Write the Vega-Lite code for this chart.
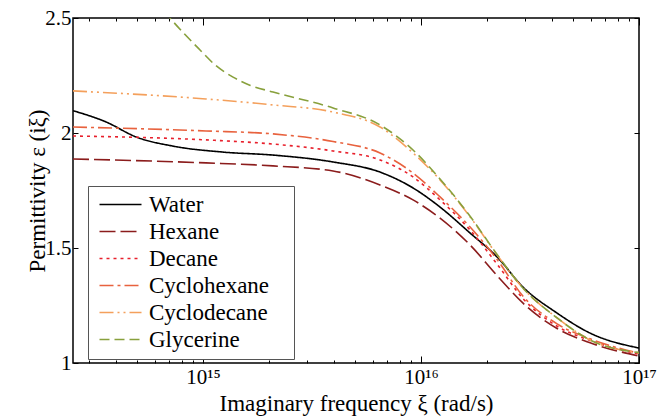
{
  "$schema": "https://vega.github.io/schema/vega-lite/v6.json",
  "width": 566,
  "height": 345,
  "autosize": {"type": "none"},
  "padding": {"left": 73, "top": 18, "right": 18, "bottom": 53},
  "background": "white",
  "config": {
    "font": "Liberation Serif",
    "view": {"stroke": "black", "strokeWidth": 1.5},
    "axis": {
      "domain": false,
      "grid": false,
      "tickColor": "black",
      "tickWidth": 1,
      "labelColor": "black",
      "labelFont": "Liberation Serif",
      "labelFontSize": 21,
      "titleFont": "Liberation Serif",
      "titleFontSize": 23,
      "titleFontWeight": "normal",
      "titleColor": "black"
    }
  },
  "data": {
    "values": [
      {"liquid": "Water", "xi": 2.535e14, "eps": 2.097},
      {"liquid": "Water", "xi": 3.593e14, "eps": 2.048},
      {"liquid": "Water", "xi": 4.932e14, "eps": 1.983},
      {"liquid": "Water", "xi": 7.29e14, "eps": 1.943},
      {"liquid": "Water", "xi": 1.236e15, "eps": 1.917},
      {"liquid": "Water", "xi": 2.097e15, "eps": 1.904},
      {"liquid": "Water", "xi": 3.952e15, "eps": 1.874},
      {"liquid": "Water", "xi": 6.49e15, "eps": 1.83},
      {"liquid": "Water", "xi": 9.196e15, "eps": 1.761},
      {"liquid": "Water", "xi": 1.223e16, "eps": 1.678},
      {"liquid": "Water", "xi": 1.68e16, "eps": 1.565},
      {"liquid": "Water", "xi": 2.234e16, "eps": 1.461},
      {"liquid": "Water", "xi": 2.939e16, "eps": 1.33},
      {"liquid": "Water", "xi": 4.21e16, "eps": 1.217},
      {"liquid": "Water", "xi": 5.966e16, "eps": 1.13},
      {"liquid": "Water", "xi": 1e17, "eps": 1.065},

      {"liquid": "Hexane", "xi": 2.535e14, "eps": 1.887},
      {"liquid": "Hexane", "xi": 4.932e14, "eps": 1.88},
      {"liquid": "Hexane", "xi": 1.033e15, "eps": 1.87},
      {"liquid": "Hexane", "xi": 2.097e15, "eps": 1.857},
      {"liquid": "Hexane", "xi": 3.952e15, "eps": 1.835},
      {"liquid": "Hexane", "xi": 6.49e15, "eps": 1.774},
      {"liquid": "Hexane", "xi": 9.196e15, "eps": 1.709},
      {"liquid": "Hexane", "xi": 1.223e16, "eps": 1.63},
      {"liquid": "Hexane", "xi": 1.68e16, "eps": 1.513},
      {"liquid": "Hexane", "xi": 2.234e16, "eps": 1.38},
      {"liquid": "Hexane", "xi": 2.939e16, "eps": 1.26},
      {"liquid": "Hexane", "xi": 4.21e16, "eps": 1.15},
      {"liquid": "Hexane", "xi": 5.966e16, "eps": 1.088},
      {"liquid": "Hexane", "xi": 1e17, "eps": 1.03},

      {"liquid": "Decane", "xi": 2.535e14, "eps": 1.987},
      {"liquid": "Decane", "xi": 1.033e15, "eps": 1.97},
      {"liquid": "Decane", "xi": 2.097e15, "eps": 1.952},
      {"liquid": "Decane", "xi": 3.952e15, "eps": 1.922},
      {"liquid": "Decane", "xi": 6.49e15, "eps": 1.883},
      {"liquid": "Decane", "xi": 9.196e15, "eps": 1.809},
      {"liquid": "Decane", "xi": 1.223e16, "eps": 1.709},
      {"liquid": "Decane", "xi": 1.68e16, "eps": 1.578},
      {"liquid": "Decane", "xi": 2.234e16, "eps": 1.43},
      {"liquid": "Decane", "xi": 2.939e16, "eps": 1.28},
      {"liquid": "Decane", "xi": 4.21e16, "eps": 1.16},
      {"liquid": "Decane", "xi": 5.966e16, "eps": 1.098},
      {"liquid": "Decane", "xi": 1e17, "eps": 1.038},

      {"liquid": "Cyclohexane", "xi": 2.535e14, "eps": 2.026},
      {"liquid": "Cyclohexane", "xi": 1.033e15, "eps": 2.009},
      {"liquid": "Cyclohexane", "xi": 2.097e15, "eps": 1.996},
      {"liquid": "Cyclohexane", "xi": 3.952e15, "eps": 1.963},
      {"liquid": "Cyclohexane", "xi": 6.49e15, "eps": 1.913},
      {"liquid": "Cyclohexane", "xi": 9.196e15, "eps": 1.826},
      {"liquid": "Cyclohexane", "xi": 1.223e16, "eps": 1.722},
      {"liquid": "Cyclohexane", "xi": 1.68e16, "eps": 1.591},
      {"liquid": "Cyclohexane", "xi": 2.234e16, "eps": 1.45},
      {"liquid": "Cyclohexane", "xi": 2.939e16, "eps": 1.29},
      {"liquid": "Cyclohexane", "xi": 4.21e16, "eps": 1.17},
      {"liquid": "Cyclohexane", "xi": 5.966e16, "eps": 1.105},
      {"liquid": "Cyclohexane", "xi": 1e17, "eps": 1.042},

      {"liquid": "Cyclodecane", "xi": 2.535e14, "eps": 2.183},
      {"liquid": "Cyclodecane", "xi": 1.033e15, "eps": 2.148},
      {"liquid": "Cyclodecane", "xi": 2.097e15, "eps": 2.122},
      {"liquid": "Cyclodecane", "xi": 3.952e15, "eps": 2.091},
      {"liquid": "Cyclodecane", "xi": 6.49e15, "eps": 2.026},
      {"liquid": "Cyclodecane", "xi": 9.196e15, "eps": 1.913},
      {"liquid": "Cyclodecane", "xi": 1.223e16, "eps": 1.796},
      {"liquid": "Cyclodecane", "xi": 1.68e16, "eps": 1.635},
      {"liquid": "Cyclodecane", "xi": 2.234e16, "eps": 1.47},
      {"liquid": "Cyclodecane", "xi": 2.939e16, "eps": 1.325},
      {"liquid": "Cyclodecane", "xi": 4.21e16, "eps": 1.196},
      {"liquid": "Cyclodecane", "xi": 5.966e16, "eps": 1.1},
      {"liquid": "Cyclodecane", "xi": 1e17, "eps": 1.045},

      {"liquid": "Glycerine", "xi": 6.03e14, "eps": 2.58},
      {"liquid": "Glycerine", "xi": 7.063e14, "eps": 2.5},
      {"liquid": "Glycerine", "xi": 9.696e14, "eps": 2.361},
      {"liquid": "Glycerine", "xi": 1.14e15, "eps": 2.295},
      {"liquid": "Glycerine", "xi": 1.374e15, "eps": 2.243},
      {"liquid": "Glycerine", "xi": 1.65e15, "eps": 2.207},
      {"liquid": "Glycerine", "xi": 2.097e15, "eps": 2.178},
      {"liquid": "Glycerine", "xi": 3.952e15, "eps": 2.109},
      {"liquid": "Glycerine", "xi": 6.49e15, "eps": 2.035},
      {"liquid": "Glycerine", "xi": 9.196e15, "eps": 1.926},
      {"liquid": "Glycerine", "xi": 1.223e16, "eps": 1.8},
      {"liquid": "Glycerine", "xi": 1.68e16, "eps": 1.638},
      {"liquid": "Glycerine", "xi": 2.234e16, "eps": 1.472},
      {"liquid": "Glycerine", "xi": 2.939e16, "eps": 1.325},
      {"liquid": "Glycerine", "xi": 4.21e16, "eps": 1.196},
      {"liquid": "Glycerine", "xi": 5.966e16, "eps": 1.1},
      {"liquid": "Glycerine", "xi": 1e17, "eps": 1.045}
    ]
  },
  "layer": [
    {
      "mark": {"type": "line", "strokeWidth": 1.6, "interpolate": "monotone", "clip": true},
      "encoding": {
        "x": {
          "field": "xi", "type": "quantitative",
          "scale": {"type": "log", "domain": [2.535e14, 1e17], "nice": false},
          "axis": {
            "orient": "bottom",
            "title": "Imaginary frequency ξ (rad/s)",
            "titlePadding": 1,
            "values": [3e14, 4e14, 5e14, 6e14, 7e14, 8e14, 9e14, 1e15, 2e15, 3e15, 4e15, 5e15, 6e15, 7e15, 8e15, 9e15, 1e16, 2e16, 3e16, 4e16, 5e16, 6e16, 7e16, 8e16, 9e16, 1e17],
            "labelExpr": "abs(datum.value/1e15-1)<1e-6 ? '10¹⁵' : abs(datum.value/1e16-1)<1e-6 ? '10¹⁶' : abs(datum.value/1e17-1)<1e-6 ? '10¹⁷' : ''",
            "tickSize": {"condition": {"test": "abs(log(datum.value)/LN10 - round(log(datum.value)/LN10)) < 1e-6", "value": -7}, "value": -3},
            "labelPadding": 10,
            "labelFlush": false,
            "labelOverlap": false
          }
        },
        "y": {
          "field": "eps", "type": "quantitative",
          "scale": {"domain": [1, 2.5], "nice": false, "zero": false},
          "axis": {
            "orient": "left",
            "title": "Permittivity  ε (iξ)",
            "titlePadding": -5,
            "values": [1, 1.5, 2, 2.5],
            "labelExpr": "format(datum.value, '~g')",
            "tickSize": -5,
            "labelPadding": 7
          }
        },
        "color": {
          "field": "liquid", "type": "nominal",
          "scale": {
            "domain": ["Water", "Hexane", "Decane", "Cyclohexane", "Cyclodecane", "Glycerine"],
            "range": ["#000000", "#8b1c1c", "#e8202c", "#e8623e", "#f4a05c", "#88a03c"]
          },
          "legend": {
            "orient": "none",
            "legendX": 15,
            "legendY": 168,
            "title": null,
            "fillColor": "white",
            "strokeColor": "#555555",
            "padding": 7,
            "symbolType": "M-1,0H5",
            "symbolSize": 196,
            "symbolStrokeWidth": 1.6,
            "labelFont": "Liberation Serif",
            "labelFontSize": 23,
            "labelColor": "black",
            "labelOffset": 31,
            "labelExpr": "datum.label + '\u2800'",
            "rowPadding": 3
          }
        },
        "strokeDash": {
          "field": "liquid", "type": "nominal",
          "scale": {
            "domain": ["Water", "Hexane", "Decane", "Cyclohexane", "Cyclodecane", "Glycerine"],
            "range": [[1, 0], [16, 5], [3, 4], [14, 4, 3, 4], [14, 4, 2, 4, 2, 4], [10, 5]]
          }
        }
      }
    },
    {
      "mark": {"type": "line", "opacity": 0, "clip": true},
      "encoding": {
        "detail": {"field": "liquid"},
        "x": {
          "field": "xi", "type": "quantitative",
          "axis": {
            "orient": "top",
            "title": null,
            "labels": false,
            "values": [3e14, 4e14, 5e14, 6e14, 7e14, 8e14, 9e14, 1e15, 2e15, 3e15, 4e15, 5e15, 6e15, 7e15, 8e15, 9e15, 1e16, 2e16, 3e16, 4e16, 5e16, 6e16, 7e16, 8e16, 9e16, 1e17],
            "tickSize": {"condition": {"test": "abs(log(datum.value)/LN10 - round(log(datum.value)/LN10)) < 1e-6", "value": -7}, "value": -3}
          }
        },
        "y": {
          "field": "eps", "type": "quantitative",
          "axis": {
            "orient": "right",
            "title": null,
            "labels": false,
            "values": [1, 1.5, 2, 2.5],
            "tickSize": -5
          }
        }
      }
    }
  ]
}
